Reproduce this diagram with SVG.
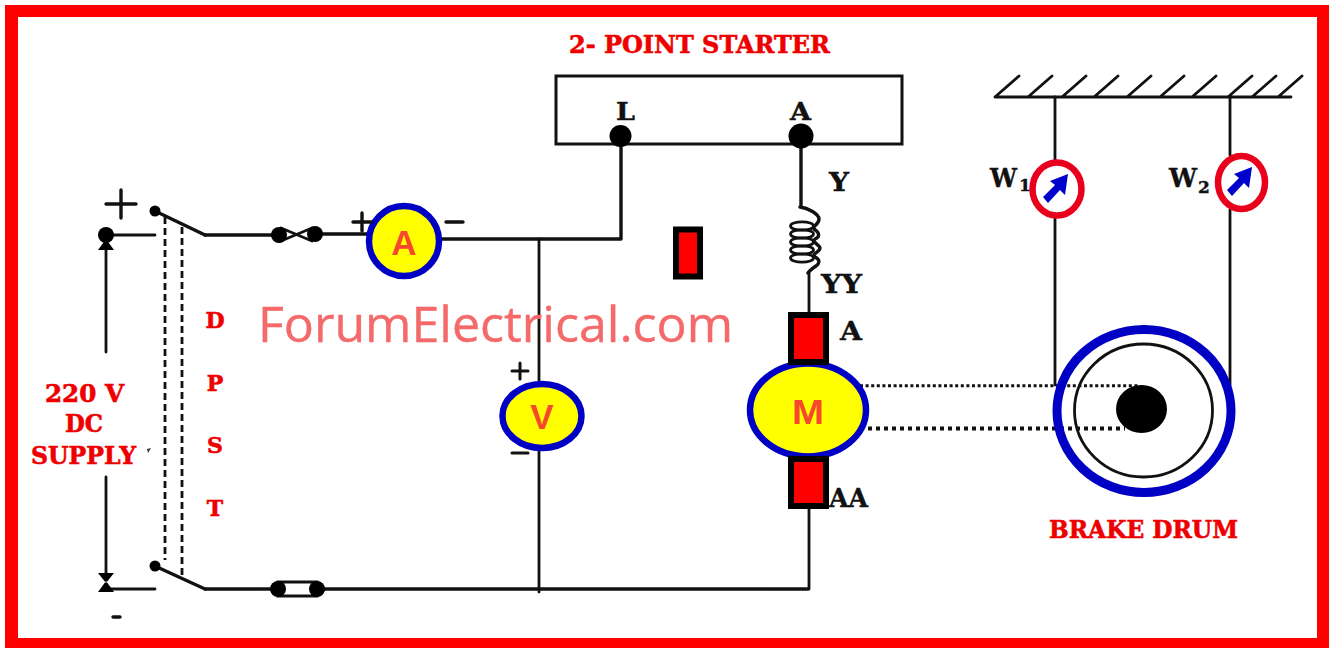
<svg xmlns="http://www.w3.org/2000/svg" width="1329" height="648" viewBox="0 0 1329 648">
<style>
.w{fill:none;stroke:#111;stroke-width:2.8;stroke-linecap:round;stroke-linejoin:round}
.t{stroke-width:3.4}
.b{fill:#000;stroke:none}
.rl{font-family:"DejaVu Serif","Liberation Serif",serif;font-weight:bold;fill:#ee0000;stroke:#ee0000;stroke-width:.6;font-size:24px}
.bl{font-family:"DejaVu Serif","Liberation Serif",serif;font-weight:bold;fill:#111;stroke:#111;stroke-width:.4;font-size:26px}
.ml{font-family:"Liberation Sans",Arial,sans-serif;font-weight:bold;fill:#f5482c;font-size:35px;text-anchor:middle}
.br{fill:#f00;stroke:#000;stroke-width:6}
.m{fill:#ff0;stroke:#0000c4;stroke-width:6.500}
.g{fill:#fff;stroke:#e8001c;stroke-width:6.500}
.ar{fill:#0000cc}
</style>
<rect x="0" y="0" width="1329" height="648" fill="#fff"/>
<rect x="5" y="5" width="1324" height="643" fill="#f00"/>
<rect x="18" y="17" width="1299" height="621" fill="#fff"/>

<g id="connectors">
<path class="w t" d="M205 235H272M314 234H370M441 239H621V136"/>
<path class="w" d="M539 239V592"/>
<path class="w t" d="M205 589H808"/>
<path class="w" d="M809 272V315M809 505V589"/>
<path class="w t" d="M801 140V206"/>
<path class="w" d="M106 235H155M106 589H155M106 250V352M106 477V576"/>
<path class="w t" d="M157 212L205 235M157 567L205 589"/>
<path class="w" d="M165 217V560M182 227V577" stroke-dasharray="7 4" style="stroke-linecap:butt"/>
<path class="w" d="M1055 97V161M1055 218V385M1230 97V155M1230 210V385"/>
<path d="M860 385.7H1140" fill="none" stroke="#111" stroke-width="3" stroke-dasharray="3 2.6"/>
<path d="M868 428.5H1125" fill="none" stroke="#111" stroke-width="4" stroke-dasharray="4 4"/>
</g>

<g id="starter">
<rect x="556" y="76" width="346" height="68" fill="none" stroke="#111" stroke-width="3"/>
<circle class="b" cx="620.5" cy="136" r="11"/>
<circle class="b" cx="801" cy="136" r="12.5"/>
<text class="bl" x="616" y="120" textLength="19" lengthAdjust="spacingAndGlyphs" style="font-size:24px">L</text>
<text class="bl" x="790" y="120" textLength="21" lengthAdjust="spacingAndGlyphs" style="font-size:24px">A</text>
<text class="rl" x="569" y="53" textLength="261" lengthAdjust="spacingAndGlyphs">2- POINT STARTER</text>
</g>

<g id="field-coil">
<path class="w t" d="M800 207C808 208 819 214 819 219C819 225 812 226 814 229C820 233 820 237 815 239C811 242 820 245 820 248C820 252 811 254 815 257C821 260 819 264 816 266C813 268 810 270 808 273"/>
<g fill="none" stroke="#111" stroke-width="2.800">
<ellipse cx="802" cy="226" rx="11.500" ry="4.200"/>
<ellipse cx="802" cy="234" rx="11.500" ry="4.200"/>
<ellipse cx="802" cy="242" rx="11.500" ry="4.200"/>
<ellipse cx="802" cy="250" rx="11.500" ry="4.200"/>
<ellipse cx="802" cy="258" rx="11.500" ry="4.200"/>
</g>
<text class="bl" x="829" y="191" textLength="20" lengthAdjust="spacingAndGlyphs">Y</text>
<text class="bl" x="821" y="293" textLength="41" lengthAdjust="spacingAndGlyphs">YY</text>
</g>

<g id="rheostat"><rect class="br" x="676" y="229.500" width="24" height="47"/></g>

<g id="supply">
<path class="w t" d="M106 204H136M121 190V218"/>
<circle class="b" cx="106" cy="235" r="8"/>
<path class="b" d="M98 250H114L106 239Z"/>
<path class="b" d="M98 573H114L106 583ZM98 592H114L106 581Z"/>
<path class="w t" d="M113 617H120"/>
<path d="M147 449L151 448L148 453Z" fill="#333"/>
<text class="rl" x="45" y="402" textLength="79" lengthAdjust="spacingAndGlyphs">220 V</text>
<text class="rl" x="65" y="432" textLength="38" lengthAdjust="spacingAndGlyphs">DC</text>
<text class="rl" x="31" y="464" textLength="105" lengthAdjust="spacingAndGlyphs">SUPPLY</text>
</g>

<g id="dpst">
<circle class="b" cx="155" cy="211" r="5.500"/>
<circle class="b" cx="155" cy="566" r="5.500"/>
<g class="rl" text-anchor="middle">
<text x="215" y="328" style="font-size:22px">D</text>
<text x="215" y="391" style="font-size:22px">P</text>
<text x="215" y="453" style="font-size:22px">S</text>
<text x="215" y="516" style="font-size:22px">T</text>
</g>
</g>

<g id="fuse-top">
<path class="w" d="M281 228L312 241M281 241L312 228"/>
<circle class="b" cx="279" cy="235" r="8"/>
<circle class="b" cx="315" cy="234" r="8"/>
</g>
<g id="fuse-bottom">
<rect x="278" y="582" width="39" height="14" fill="#fff" stroke="#111" stroke-width="3"/>
<circle class="b" cx="278" cy="589" r="8"/>
<circle class="b" cx="317" cy="589" r="8"/>
</g>

<g id="ammeter">
<circle class="m" cx="404" cy="241" r="35"/>
<text class="ml" x="404" y="255">A</text>
<path class="w t" d="M353 222H371M362 213V231M446 222H463"/>
</g>

<g id="voltmeter">
<ellipse class="m" cx="542" cy="416" rx="39.500" ry="32"/>
<text class="ml" x="542" y="429">V</text>
<path class="w" d="M512 371H528M520 363V379M512 453H528" style="stroke-width:3"/>
</g>

<g id="motor">
<ellipse class="m" cx="808" cy="410" rx="58" ry="46.500"/>
<rect class="br" x="791" y="315" width="35" height="47"/>
<rect class="br" x="791" y="459" width="35" height="47"/>
<text class="ml" x="808" y="424" textLength="32" lengthAdjust="spacingAndGlyphs">M</text>
<text class="bl" x="840" y="340" textLength="22" lengthAdjust="spacingAndGlyphs">A</text>
<text class="bl" x="829" y="507" textLength="39" lengthAdjust="spacingAndGlyphs">AA</text>
</g>

<g id="brake-drum">
<ellipse cx="1144" cy="411" rx="87" ry="81.500" fill="none" stroke="#0000c4" stroke-width="9"/>
<ellipse cx="1143.500" cy="410.500" rx="69" ry="66.500" fill="none" stroke="#111" stroke-width="2.800"/>
<ellipse class="b" cx="1141.500" cy="409" rx="25.500" ry="24"/>
<text class="rl" x="1049" y="538" textLength="189" lengthAdjust="spacingAndGlyphs">BRAKE DRUM</text>
</g>

<g id="ceiling">
<path class="w" d="M995 97H1291M995 97L1019 76M1028 97L1052 76M1062 97L1086 76M1094 97L1118 76M1127 97L1151 76M1160 97L1184 76M1192 97L1216 76M1228 97L1252 76M1252 97L1276 76M1278 97L1302 76"/>
</g>

<g id="w1">
<ellipse class="g" cx="1057" cy="189" rx="24.500" ry="26.500"/>
<polygon class="ar" points="1068,174 1065,195 1060,190 1048,203 1043,197 1055,185 1050,181"/>
<text class="bl" x="990" y="187" textLength="27" lengthAdjust="spacingAndGlyphs">W</text>
<text class="bl" x="1019" y="191" style="font-size:17px">1</text>
</g>

<g id="w2">
<ellipse class="g" cx="1241.500" cy="182.500" rx="23.500" ry="26.500"/>
<polygon class="ar" points="1252,167 1249,188 1244,183 1232,196 1227,190 1239,178 1234,174"/>
<text class="bl" x="1169" y="187" textLength="28" lengthAdjust="spacingAndGlyphs">W</text>
<text class="bl" x="1198" y="193" style="font-size:17px">2</text>
</g>

<text id="watermark" x="258" y="342" font-family="'Open Sans','Noto Sans',sans-serif" font-size="49" fill="#f46a6a" stroke="#f46a6a" stroke-width=".4" textLength="475" lengthAdjust="spacingAndGlyphs">ForumElectrical.com</text>
</svg>
